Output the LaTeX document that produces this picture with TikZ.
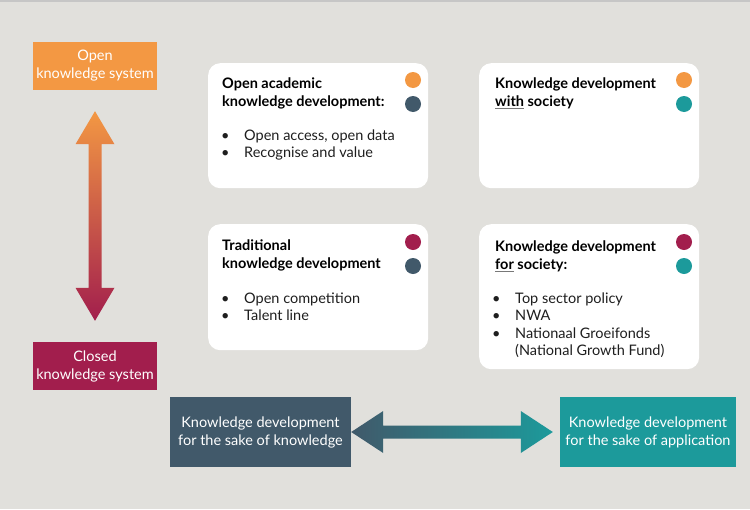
\documentclass[tikz,border=0pt]{standalone}
\usepackage{fontspec}
\setmainfont{Lato}
\usetikzlibrary{calc}
\definecolor{kdorange}{RGB}{243,152,67}
\definecolor{kdcrimson}{RGB}{162,30,77}
\definecolor{kdslate}{RGB}{65,89,106}
\definecolor{kdteal}{RGB}{28,154,155}
\definecolor{kdbg}{RGB}{225,224,220}
\definecolor{kdline}{RGB}{120,120,120}
\definecolor{kdtext}{RGB}{30,30,30}
\newcommand{\bul}{\makebox[23pt][l]{\textbullet}}
\newcommand{\grayul}[1]{\textcolor{kdline}{\underline{\textcolor{black}{#1}}}}

\begin{document}
\begin{tikzpicture}[x=1pt,y=-1pt,
  card/.style={fill=white,rounded corners=12pt,anchor=north west,minimum width=220},
  sysbox/.style={text=white,align=center,inner sep=0,font=\fontsize{14.5}{18}\selectfont},
  title/.style={anchor=north west,inner sep=0,align=left,font=\bfseries\fontsize{14.5}{18}\selectfont},
  items/.style={anchor=north west,inner sep=0,align=left,text=kdtext,font=\fontsize{14.5}{17.5}\selectfont},
  dot/.style={circle,inner sep=0,minimum size=16}]
  \useasboundingbox (0,0) rectangle (750,509);
  \fill[kdbg] (0,0) rectangle (750,509);
  \draw[gray!45,line width=1.5pt] (0,0.75)--(750,0.75);

  % open / closed
  \node[sysbox,fill=kdorange,minimum width=124,minimum height=48] (open) at (95,66) {Open\\knowledge system};
  \node[sysbox,fill=kdcrimson,minimum width=124,minimum height=48] (closed) at (95,366) {Closed\\knowledge system};
  \coordinate (vt) at ($(open.south)+(0,21)$);
  \coordinate (vb) at ($(closed.north)+(0,-21)$);
  \shade[top color=kdorange,bottom color=kdcrimson]
    (vt)--($(vt)+(19.5,33)$)--($(vt)+(6.5,33)$)--($(vb)+(6.5,-33)$)--($(vb)+(19.5,-33)$)--(vb)
    --($(vb)+(-19.5,-33)$)--($(vb)+(-6.5,-33)$)--($(vt)+(-6.5,33)$)--($(vt)+(-19.5,33)$)--cycle;

  % cards
  \node[card,minimum height=125] (oa) at (208,63) {};
  \node[card,minimum height=125] (ws) at (479,63) {};
  \node[card,minimum height=126] (tr) at (208,224) {};
  \node[card,minimum height=145] (fs) at (479,224) {};

  \node[title] (oat) at (222,77.5) {Open academic\\knowledge development:};
  \node[items] (oai) at (221,129.5) {\bul Open access, open data\\\bul Recognise and value};
  \node[dot,fill=kdorange] (oa1) at (413,80) {};
  \node[dot,fill=kdslate] (oa2) at (413,104) {};

  \node[title] (wst) at (495,77.5) {Knowledge development\\\grayul{with} society};
  \node[dot,fill=kdorange] (ws1) at (684,80) {};
  \node[dot,fill=kdteal] (ws2) at (684,104) {};

  \node[title] (trt) at (222,239.5) {Traditional\\knowledge development};
  \node[items] (tri) at (221,292.5) {\bul Open competition\\\bul Talent line};
  \node[dot,fill=kdcrimson] (tr1) at (413,242) {};
  \node[dot,fill=kdslate] (tr2) at (413,266) {};

  \node[title] (fst) at (495,240.5) {Knowledge development\\\grayul{for} society:};
  \node[items] (fsi) at (492,292.5) {\bul Top sector policy\\\bul NWA\\\bul Nationaal Groeifonds\\\hspace*{23pt}(National Growth Fund)};
  \node[dot,fill=kdcrimson] (fs1) at (684,242) {};
  \node[dot,fill=kdteal] (fs2) at (684,266) {};

  % knowledge / application
  \node[sysbox,fill=kdslate,minimum width=181,minimum height=70] (kn) at (260.5,432) {Knowledge development\\for the sake of knowledge};
  \node[sysbox,fill=kdteal,minimum width=176,minimum height=70] (ap) at (648,432) {Knowledge development\\for the sake of application};
  \coordinate (hl) at (kn.east);
  \coordinate (hr) at ($(ap.west)+(-7,0)$);
  \shade[left color=kdslate,right color=kdteal]
    (hl)--($(hl)+(32,-21)$)--($(hl)+(32,-6.5)$)--($(hr)+(-32,-6.5)$)--($(hr)+(-32,-21)$)--(hr)
    --($(hr)+(-32,21)$)--($(hr)+(-32,6.5)$)--($(hl)+(32,6.5)$)--($(hl)+(32,21)$)--cycle;
\end{tikzpicture}
\end{document}
